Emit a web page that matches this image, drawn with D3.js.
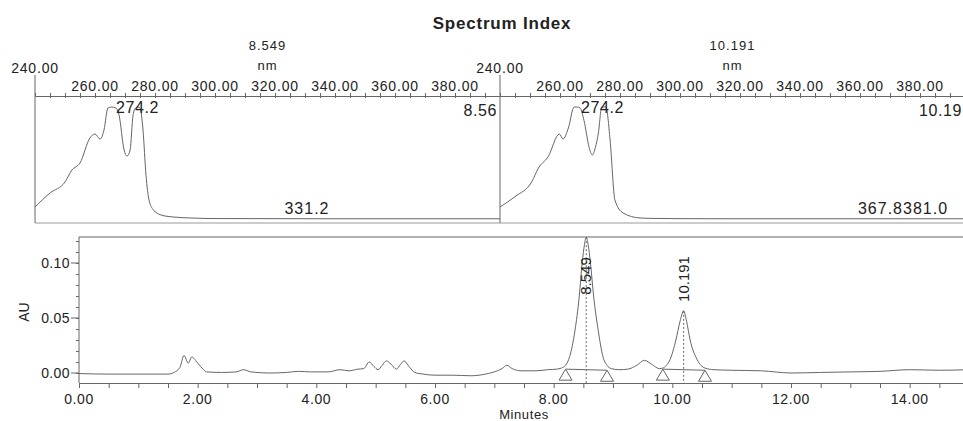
<!DOCTYPE html>
<html>
<head>
<meta charset="utf-8">
<script src="https://cdn.jsdelivr.net/npm/d3@7"></script>
<style>
  html, body { margin: 0; padding: 0; background: #fff; }
  svg { display: block; font-family: "Liberation Sans", Arial, sans-serif; }
</style>
</head>
<body>
<svg id="chart" width="963" height="421"></svg>
<script>
// ---------- DATA ----------
const title = "Spectrum Index";

// Spectrum panels (wavelength nm, relative absorbance)
const specTicks = [260, 280, 300, 320, 340, 360, 380];
const spec1Title = "8.549";
const spec1Nm  = [240, 245, 250, 252.3, 255, 258.3, 260, 261.7, 263, 264.3, 265.5, 267, 268, 269.7, 270.7, 271.7, 272.7, 273.5, 274.2, 275, 276, 277, 278, 279.5, 282, 286, 292, 300, 320, 340, 360, 380, 395];
const spec1Abs = [0.107, 0.232, 0.33, 0.437, 0.5, 0.723, 0.759, 0.714, 0.795, 0.991, 1.0, 0.991, 0.93, 0.616, 0.5625, 0.616, 0.93, 0.991, 1.0, 0.991, 0.795, 0.39, 0.17, 0.08, 0.036, 0.018, 0.009, 0.004, 0.003, 0.002, 0.002, 0.002, 0.002];
const spec1Labels = { max: "274.2", rt: "8.56", low: "331.2" };

const spec2Title = "10.191";
const spec2Nm  = [240, 245, 250.6, 252.8, 256, 259.8, 261, 262.8, 264.7, 265.7, 266.7, 268, 269.7, 270.8, 271.8, 272.8, 273.9, 274.6, 275.3, 276.7, 278.3, 281, 286.7, 292, 300, 320, 340, 360, 380, 395];
const spec2Abs = [0.107, 0.2, 0.333, 0.455, 0.554, 0.759, 0.714, 0.813, 1.0, 1.0, 0.991, 0.88, 0.64, 0.571, 0.64, 0.768, 1.0, 1.0, 1.0, 0.705, 0.17, 0.054, 0.009, 0.005, 0.003, 0.002, 0.002, 0.002, 0.002, 0.002];
const spec2Labels = { max: "274.2", rt: "10.19", low: "367.8381.0" };

// Chromatogram (minutes, AU)
const timeTicks = [0, 2, 4, 6, 8, 10, 12, 14];
const auTicks = [0, 0.05, 0.10];
const chromTime = [0, 0.5, 1.0, 1.5, 1.6, 1.7, 1.77, 1.84, 1.9, 2.0, 2.1, 2.15, 2.4, 2.65, 2.77, 2.9, 3.2, 3.5, 3.7, 3.9, 4.2, 4.4, 4.55, 4.7, 4.8, 4.89, 4.97, 5.04, 5.11, 5.18, 5.26, 5.35, 5.42, 5.48, 5.56, 5.66, 5.8, 6.0, 6.3, 6.6, 6.85, 7.05, 7.13, 7.21, 7.3, 7.45, 7.7, 7.9, 8.05, 8.13, 8.2, 8.27, 8.36, 8.43, 8.48, 8.52, 8.549, 8.58, 8.62, 8.675, 8.75, 8.83, 8.9, 8.97, 9.1, 9.25, 9.4, 9.53, 9.65, 9.78, 9.84, 9.9, 9.96, 10.06, 10.13, 10.191, 10.24, 10.30, 10.42, 10.55, 10.7, 11.0, 11.5, 12.0, 12.5, 13.0, 13.5, 14.0, 14.5, 15.0];
const chromAU   = [-0.0005, -0.001, -0.001, -0.001, 0.0005, 0.005, 0.016, 0.009, 0.0145, 0.009, 0.003, 0.001, 0.0005, 0.001, 0.003, 0.001, 0.0, 0.0005, 0.0015, 0.001, 0.001, 0.003, 0.002, 0.0035, 0.004, 0.010, 0.006, 0.003, 0.007, 0.011, 0.008, 0.0035, 0.008, 0.011, 0.006, 0.0005, -0.001, -0.002, -0.002, -0.0025, -0.001, 0.002, 0.004, 0.007, 0.004, 0.002, 0.002, 0.003, 0.0035, 0.0045, 0.007, 0.015, 0.039, 0.069, 0.10, 0.117, 0.1235, 0.117, 0.10, 0.069, 0.039, 0.015, 0.007, 0.004, 0.003, 0.0035, 0.007, 0.0115, 0.008, 0.004, 0.0045, 0.007, 0.012, 0.030, 0.047, 0.0565, 0.047, 0.030, 0.012, 0.0045, 0.003, 0.0025, 0.002, 0.0, 0.0005, 0.001, 0.0015, 0.003, 0.0025, 0.003];

const peakRT     = [8.549, 10.191];
const peakApexAU = [0.1235, 0.0565];
const peakStart  = [8.2, 9.84];
const peakEnd    = [8.9, 10.55];
const peakStartAU = [0.0035, 0.0035];
const peakEndAU   = [0.0025, 0.0025];

// ---------- DRAW ----------
const svg = d3.select("#chart");
const lineCol = "#666";
const textCol = "#222";

svg.append("text").attr("x", 502).attr("y", 29).attr("text-anchor", "middle")
  .attr("font-size", 17).attr("font-weight", "bold").attr("letter-spacing", 0.8)
  .attr("fill", textCol).text(title);

function drawSpectrum(x0, x1, nm, abs, ttl, labels, lowLabelX) {
  const x = d3.scaleLinear().domain([240, 395]).range([x0, x1]);
  const y = d3.scaleLinear().domain([0, 1]).range([219, 107]);
  const g = svg.append("g");
  const axisY = 96;
  g.append("text").attr("x", (x0 + x1) / 2).attr("y", 50).attr("text-anchor", "middle")
    .attr("font-size", 13).attr("letter-spacing", 1).attr("fill", textCol).text(ttl);
  g.append("text").attr("x", (x0 + x1) / 2).attr("y", 70).attr("text-anchor", "middle")
    .attr("font-size", 13).attr("letter-spacing", 1).attr("fill", textCol).text("nm");
  g.append("text").attr("x", x(240)).attr("y", 73).attr("text-anchor", "middle")
    .attr("font-size", 14).attr("fill", textCol).attr("letter-spacing", 0.8).text("240.00");
  const ax = d3.axisTop(x).tickValues(d3.range(245, 395, 5)).tickSize(3).tickFormat("");
  const axG = g.append("g").attr("transform", `translate(0,${axisY})`).call(ax);
  axG.select(".domain").attr("stroke", lineCol);
  axG.selectAll(".tick line").attr("stroke", lineCol).attr("y2", -3).attr("y1", 2);
  g.selectAll("text.tl").data(specTicks).enter().append("text")
    .attr("x", d => x(d)).attr("y", 91).attr("text-anchor", "middle")
    .attr("font-size", 14).attr("fill", textCol).attr("letter-spacing", 0.8)
    .text(d => d.toFixed(2));
  g.append("line").attr("x1", x0).attr("x2", x0).attr("y1", 75).attr("y2", 223)
    .attr("stroke", lineCol);
  g.append("line").attr("x1", x0).attr("x2", x1).attr("y1", 223).attr("y2", 223)
    .attr("stroke", "#999");
  const line = d3.line().x((d, i) => x(nm[i])).y((d, i) => y(abs[i])).curve(d3.curveMonotoneX);
  g.append("path").datum(nm).attr("d", line).attr("fill", "none")
    .attr("stroke", lineCol).attr("stroke-width", 1);
  g.append("text").attr("x", x(274.2)).attr("y", 113).attr("text-anchor", "middle")
    .attr("font-size", 16).attr("letter-spacing", 0.6).attr("fill", textCol).text(labels.max);
  g.append("text").attr("x", x1 - 3).attr("y", 116).attr("text-anchor", "end")
    .attr("font-size", 16).attr("letter-spacing", 0.6).attr("fill", textCol).text(labels.rt);
  g.append("text").attr("x", lowLabelX).attr("y", 214).attr("text-anchor", "middle")
    .attr("font-size", 16).attr("letter-spacing", 1).attr("fill", textCol).text(labels.low);
}
drawSpectrum(35, 500, spec1Nm, spec1Abs, spec1Title, spec1Labels, 307);
drawSpectrum(500, 965, spec2Nm, spec2Abs, spec2Title, spec2Labels, 903);

// Chromatogram
const cx = d3.scaleLinear().domain([0, 15]).range([79, 969]);
const cy = d3.scaleLinear().domain([0, 0.05]).range([373, 318]);
const frameTop = 237, frameBottom = 383;
const cg = svg.append("g");
cg.append("line").attr("x1", 79).attr("x2", 963).attr("y1", frameTop).attr("y2", frameTop).attr("stroke", lineCol);
cg.append("line").attr("x1", 79).attr("x2", 79).attr("y1", frameTop).attr("y2", frameBottom).attr("stroke", lineCol);
const xAx = d3.axisBottom(cx).tickValues(d3.range(0, 15.01, 0.5)).tickSize(5).tickFormat("");
const xg = cg.append("g").attr("transform", `translate(0,${frameBottom})`).call(xAx);
xg.select(".domain").attr("stroke", lineCol);
xg.selectAll(".tick line").attr("stroke", lineCol);
cg.selectAll("text.xl").data(timeTicks).enter().append("text")
  .attr("x", d => cx(d)).attr("y", 404).attr("text-anchor", "middle")
  .attr("font-size", 14).attr("fill", textCol).attr("letter-spacing", 0.6).text(d => d.toFixed(2));
cg.append("text").attr("x", 524).attr("y", 419).attr("text-anchor", "middle")
  .attr("font-size", 13).attr("letter-spacing", 0.6).attr("fill", textCol).text("Minutes");
const yg = cg.append("g").attr("transform", "translate(79,0)")
  .call(d3.axisLeft(cy).tickValues(d3.range(0, 0.121, 0.01)).tickSize(3).tickFormat(""));
yg.select(".domain").remove();
yg.selectAll(".tick line").attr("stroke", lineCol);
cg.selectAll("line.ymaj").data(auTicks).enter().append("line")
  .attr("x1", 71).attr("x2", 79).attr("y1", d => cy(d)).attr("y2", d => cy(d)).attr("stroke", lineCol);
cg.selectAll("text.yl").data(auTicks).enter().append("text")
  .attr("x", 70).attr("y", d => cy(d) + 5).attr("text-anchor", "end")
  .attr("font-size", 14).attr("fill", textCol).attr("letter-spacing", 0.4).text(d => d.toFixed(2));
cg.append("text").attr("transform", "translate(29,312) rotate(-90)").attr("text-anchor", "middle")
  .attr("font-size", 14).attr("fill", textCol).text("AU");

const cline = d3.line().x((d, i) => cx(chromTime[i])).y((d, i) => cy(chromAU[i])).curve(d3.curveMonotoneX);
cg.append("path").datum(chromTime).attr("d", cline).attr("fill", "none")
  .attr("stroke", lineCol).attr("stroke-width", 1);

peakRT.forEach((rt, i) => {
  cg.append("line").attr("x1", cx(peakStart[i])).attr("y1", cy(peakStartAU[i]))
    .attr("x2", cx(peakEnd[i])).attr("y2", cy(peakEndAU[i])).attr("stroke", lineCol);
  [[peakStart[i], peakStartAU[i]], [peakEnd[i], peakEndAU[i]]].forEach(([t, a]) => {
    const px = cx(t), py = cy(a);
    cg.append("path").attr("d", `M${px},${py} L${px - 6.5},${py + 11} L${px + 6.5},${py + 11} Z`)
      .attr("fill", "none").attr("stroke", lineCol);
  });
  cg.append("line").attr("x1", cx(rt)).attr("x2", cx(rt)).attr("y1", cy(peakApexAU[i])).attr("y2", frameBottom)
    .attr("stroke", lineCol).attr("stroke-dasharray", "2,2");
  cg.append("text").attr("transform", `translate(${cx(rt) + 5},${i === 0 ? 276 : 279}) rotate(-90)`)
    .attr("text-anchor", "middle").attr("font-size", 15).attr("fill", textCol).text(rt.toFixed(3));
});
</script>
</body>
</html>
